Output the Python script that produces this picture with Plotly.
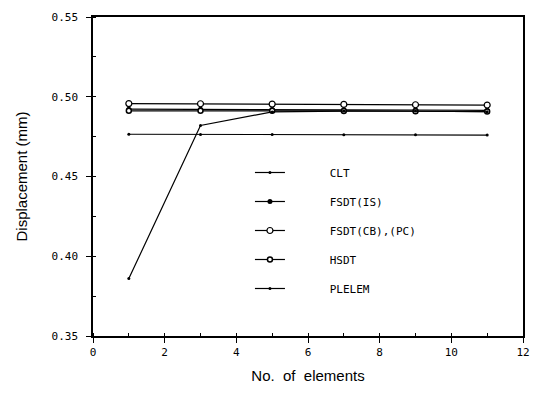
import plotly.graph_objects as go

elements = [1, 3, 5, 7, 9, 11]
clt = [0.4765, 0.4764, 0.4763, 0.4762, 0.4761, 0.4760]
fsdt_is = [0.4922, 0.4922, 0.4920, 0.4918, 0.4917, 0.4915]
fsdt_cb_pc = [0.4957, 0.4956, 0.4954, 0.4952, 0.4950, 0.4948]
hsdt = [0.4912, 0.4913, 0.4912, 0.4911, 0.4909, 0.4907]
plelem = [0.386, 0.4820, 0.4905, 0.4910, 0.4910, 0.4906]

x_ticks = [0, 2, 4, 6, 8, 10, 12]
y_ticks = [0.35, 0.40, 0.45, 0.50, 0.55]
y_tick_labels = ["0.35", "0.40", "0.45", "0.50", "0.55"]

series = [
    ("CLT", clt, dict(symbol="circle", size=3, color="black")),
    ("FSDT(IS)", fsdt_is, dict(symbol="circle", size=5, color="black")),
    ("FSDT(CB),(PC)", fsdt_cb_pc, dict(symbol="circle", size=6, color="white",
                                        line=dict(color="black", width=1.2))),
    ("HSDT", hsdt, dict(symbol="circle", size=5, color="white",
                        line=dict(color="black", width=1.5))),
    ("PLELEM", plelem, dict(symbol="circle", size=3, color="black")),
]

fig = go.Figure()
for i, (name, ys, mk) in enumerate(series):
    fig.add_trace(go.Scatter(
        x=elements, y=ys, name="      " + name, mode="lines+markers",
        line=dict(color="black", width=1.2), marker=mk,
        legendgroup=f"g{i}",
    ))

fig.update_layout(
    width=541, height=394,
    margin=dict(l=93, r=18, t=11, b=58),
    paper_bgcolor="white", plot_bgcolor="white",
    showlegend=True,
    legend=dict(
        x=0.365, y=0.558, xanchor="left", yanchor="top",
        bgcolor="rgba(0,0,0,0)", borderwidth=0,
        font=dict(family="DejaVu Sans Mono", size=11, color="black"),
        tracegroupgap=10,
    ),
    font=dict(family="Liberation Sans", color="black"),
)
fig.update_xaxes(
    range=[0, 12], tickvals=x_ticks, ticks="outside", ticklen=5,
    tickwidth=1.2, tickcolor="black",
    minor=dict(dtick=1, ticks="inside", ticklen=3, tickcolor="black"),
    showline=True, linecolor="black", linewidth=1.5, mirror=True,
    showgrid=False, zeroline=False,
    tickfont=dict(family="DejaVu Sans Mono", size=11, color="black"),
    title=dict(text="No.  of  elements", font=dict(family="Liberation Sans", size=15), standoff=13),
)
fig.update_yaxes(
    range=[0.35, 0.55], tickvals=y_ticks, ticktext=y_tick_labels,
    ticks="outside", ticklen=5, tickwidth=1.2, tickcolor="black",
    ticklabelstandoff=6,
    minor=dict(dtick=0.025, ticks="inside", ticklen=3, tickcolor="black"),
    showline=True, linecolor="black", linewidth=1.5, mirror=True,
    showgrid=False, zeroline=False,
    tickfont=dict(family="DejaVu Sans Mono", size=11, color="black"),
    title=dict(text="Displacement (mm)", font=dict(family="Liberation Sans", size=15), standoff=20),
)

fig.write_html("out.html", config={"displayModeBar": False},
               post_script="document.body.style.margin='0';")
